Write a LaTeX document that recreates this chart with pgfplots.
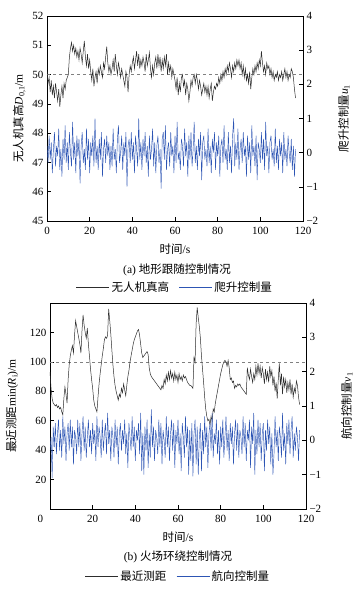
\documentclass[border=0pt]{standalone}
\usepackage{fontspec}
\setmainfont{Liberation Serif}
\newfontfamily\cjk{Noto Sans CJK SC}
\usepackage{pgfplots}
\pgfplotsset{compat=1.18}
\definecolor{lblack}{RGB}{45,45,45}
\definecolor{lblue}{RGB}{45,85,180}
\pgfplotsset{base/.style={scale only axis, width=256pt, height=205pt, xmin=0, xmax=120,
  tick align=inside, major tick length=4pt,
  ticklabel style={font=\fontsize{11}{12}\selectfont},
  xticklabel style={yshift=-2.5pt},
  label style={font=\fontsize{11.5}{13}\selectfont},
  xlabel style={yshift=-3pt},
  /pgf/number format/assume math mode=true,
  axis line style={line width=0.7pt}, tick style={line width=0.6pt, black}},
  leg/.style={legend style={anchor=center, draw=none, fill=none, legend columns=2,
  font=\cjk\fontsize{11.5}{13}\selectfont,
  /tikz/every even column/.append style={column sep=8pt}},
  legend image code/.code={\draw[##1] (0pt,0pt) -- (33pt,0pt);}}}
\begin{document}
\begin{tikzpicture}
\path[use as bounding box] (0pt,0pt) rectangle (357pt,-594pt);
% ---------- panel (a) ----------
\begin{axis}[base, name=a1, at={(47pt,-16pt)}, anchor=north west, height=205pt,
  ymin=45, ymax=52, ytick={45,46,...,52}, xtick={0,20,...,120},
  xtick pos=bottom, ytick pos=left,
  xlabel={{\cjk 时间}/s},
  ylabel={{\cjk 无人机真高}\textit{D}\textsubscript{0,1}/m}]
\addplot[gray, dashed, line width=0.5pt] coordinates {(0,50)(120,50)};
\addplot[lblack, line width=0.5pt] coordinates {
(0,50.1)(0.5,49.7)(1,49.9)(1.5,49.4)(2,49.8)(2.5,49.3)(3,49.6)(3.5,49.2)(4,49.7)(4.5,49.4)
(5,49.1)(5.5,49.5)(6,48.9)(6.5,49.3)(7,49.6)(7.5,49.2)(8,49.7)(8.5,49.5)(9,49.8)(9.5,49.9)
(10,50.0)(10.5,50.6)(11,50.9)(11.5,51.1)(12,50.8)(12.5,51.0)(13,50.7)(13.5,50.9)(14,50.6)(14.5,50.8)
(15,50.5)(15.5,50.9)(16,50.7)(16.5,50.4)(17,50.8)(17.5,51.15)(18,50.6)(18.5,50.3)(19,50.7)(19.5,50.2)
(20,50.5)(20.5,50.1)(21,49.8)(21.5,50.2)(22,49.6)(22.5,49.9)(23,50.1)(23.5,49.7)(24,50.2)(24.5,50.0)
(25,50.3)(25.5,50.1)(26,49.9)(26.5,50.4)(27,50.2)(27.5,50.6)(28,50.95)(28.5,50.4)(29,50.1)(29.5,50.3)
(30,50.0)(30.5,50.2)(31,50.5)(31.5,50.1)(32,50.7)(32.5,50.3)(33,50.0)(33.5,50.4)(34,50.2)(34.5,49.9)
(35,50.2)(35.5,50.0)(36,49.8)(36.5,49.6)(37,50.1)(37.5,49.9)(38,49.4)(38.5,50.0)(39,50.3)(39.5,50.1)
(40,50.4)(40.5,50.6)(41,50.2)(41.5,50.5)(42,50.8)(42.5,50.3)(43,50.7)(43.5,50.2)(44,50.5)(44.5,50.3)
(45,50.6)(45.5,50.4)(46,50.1)(46.5,50.7)(47,50.3)(47.5,50.5)(48,50.75)(48.5,50.2)(49,49.9)(49.5,50.3)
(50,50.0)(50.5,50.4)(51,50.6)(51.5,50.2)(52,50.7)(52.5,50.3)(53,50.6)(53.5,50.1)(54,50.5)(54.5,50.2)
(55,50.6)(55.5,50.3)(56,50.7)(56.5,50.0)(57,50.4)(57.5,50.1)(58,50.3)(58.5,49.9)(59,50.2)(59.5,50.0)
(60,49.8)(60.5,49.5)(61,49.9)(61.5,49.3)(62,49.7)(62.5,49.4)(63,49.9)(63.5,50.0)(64,49.6)(64.5,49.8)
(65,49.3)(65.5,49.7)(66,49.5)(66.5,49.1)(67,49.4)(67.5,49.8)(68,49.6)(68.5,49.9)(69,50.0)(69.5,49.7)
(70,50.0)(70.5,49.8)(71,49.5)(71.5,49.8)(72,49.6)(72.5,49.3)(73,49.5)(73.5,49.7)(74,49.4)(74.5,49.6)
(75,49.3)(75.5,49.6)(76,49.2)(76.5,49.5)(77,49.7)(77.5,49.1)(78,49.4)(78.5,49.6)(79,49.5)(79.5,49.7)
(80,49.6)(80.5,49.9)(81,49.7)(81.5,50.0)(82,49.8)(82.5,50.1)(83,49.9)(83.5,50.2)(84,50.0)(84.5,50.3)
(85,50.1)(85.5,50.4)(86,50.2)(86.5,49.9)(87,50.3)(87.5,50.1)(88,50.4)(88.5,50.2)(89,50.5)(89.5,50.3)
(90,50.5)(90.5,50.2)(91,50.4)(91.5,50.0)(92,50.3)(92.5,49.9)(93,50.2)(93.5,49.8)(94,50.0)(94.5,49.7)
(95,50.1)(95.5,49.5)(96,49.9)(96.5,50.2)(97,50.0)(97.5,50.3)(98,50.1)(98.5,50.4)(99,50.2)(99.5,50.5)
(100,50.3)(100.5,50.8)(101,50.4)(101.5,50.1)(102,50.3)(102.5,50.0)(103,50.4)(103.5,50.2)(104,50.3)(104.5,50.0)
(105,50.2)(105.5,49.9)(106,50.1)(106.5,49.8)(107,50.0)(107.5,49.9)(108,50.1)(108.5,49.8)(109,50.0)(109.5,49.9)
(110,50.1)(110.5,49.8)(111,50.0)(111.5,50.2)(112,49.9)(112.5,50.1)(113,49.8)(113.5,50.0)(114,49.9)(114.5,50.2)
(115,50.1)(115.5,49.9)(116,49.5)(116.5,49.2)};
\end{axis}
\begin{axis}[base, leg, at={(a1.north west)}, anchor=north west, height=205pt,
  axis y line*=right, axis x line=none, ymin=-2, ymax=4, ytick={-2,-1,...,4},
  yticklabels={−2,−1,0,1,2,3,4}, ylabel shift=13pt,
  ylabel={{\cjk 爬升控制量}\textit{u}\textsubscript{1}},
  legend style={at={(0.5,-0.322)}}]
\addlegendimage{lblack, line width=0.5pt}
\addlegendentry{无人机真高}
\addplot[lblue, line width=0.45pt] coordinates {
(0,0.2)(0.5,-0.3)(1,0.5)(1.5,-0.2)(2,0.3)(2.5,-0.6)(3,0.1)(3.5,0.6)(4,-0.4)(4.5,0.2)
(5,-0.1)(5.5,0.7)(6,-0.5)(6.5,0.1)(7,-0.7)(7.5,0.4)(8,-0.2)(8.5,0.8)(9,-0.3)(9.5,0.3)
(10,-0.5)(10.5,0.6)(11,0.0)(11.5,-0.4)(12,0.9)(12.5,-0.2)(13,0.3)(13.5,-0.6)(14,0.5)(14.5,-0.1)
(15,0.4)(15.5,-0.9)(16,0.2)(16.5,0.6)(17,-0.3)(17.5,0.1)(18,-0.5)(18.5,0.7)(19,-0.2)(19.5,0.4)
(20,-0.6)(20.5,0.3)(21,-0.1)(21.5,0.5)(22,-0.4)(22.5,1.0)(23,-0.3)(23.5,0.2)(24,-0.5)(24.5,0.4)
(25,-0.2)(25.5,0.6)(26,-0.7)(26.5,0.1)(27,0.4)(27.5,-0.3)(28,0.5)(28.5,-0.1)(29,0.3)(29.5,-0.5)
(30,0.2)(30.5,-0.4)(31,0.7)(31.5,-0.2)(32,0.1)(32.5,-0.6)(33,0.4)(33.5,0.8)(34,-0.3)(34.5,0.0)
(35,0.5)(35.5,-0.5)(36,0.3)(36.5,-0.1)(37,0.6)(37.5,-1.0)(38,0.2)(38.5,0.4)(39,-0.3)(39.5,0.6)
(40,-0.2)(40.5,0.3)(41,-0.6)(41.5,0.5)(42,0.1)(42.5,-0.4)(43,1.0)(43.5,-0.2)(44,0.3)(44.5,-0.5)
(45,0.4)(45.5,-0.1)(46,0.6)(46.5,-0.3)(47,0.2)(47.5,-0.7)(48,0.5)(48.5,-0.2)(49,0.1)(49.5,0.7)
(50,-0.4)(50.5,0.3)(51,-0.6)(51.5,0.2)(52,0.5)(52.5,-0.3)(53,0.1)(53.5,-1.05)(54,0.4)(54.5,0.6)
(55,-0.2)(55.5,0.8)(56,-0.5)(56.5,0.1)(57,0.3)(57.5,-0.4)(58,0.6)(58.5,-0.1)(59,0.2)(59.5,-0.6)
(60,0.5)(60.5,-0.3)(61,0.9)(61.5,-0.2)(62,0.0)(62.5,-0.5)(63,0.4)(63.5,0.2)(64,-0.4)(64.5,0.7)
(65,-0.1)(65.5,0.3)(66,-0.7)(66.5,0.5)(67,-0.2)(67.5,0.6)(68,-0.4)(68.5,0.1)(69,0.9)(69.5,-0.3)
(70,0.2)(70.5,-0.5)(71,0.4)(71.5,-0.1)(72,0.6)(72.5,-0.8)(73,0.3)(73.5,0.5)(74,-0.2)(74.5,0.1)
(75,-0.4)(75.5,0.7)(76,-0.3)(76.5,0.2)(77,-0.6)(77.5,0.4)(78,0.0)(78.5,0.6)(79,-0.5)(79.5,0.3)
(80,-0.1)(80.5,0.5)(81,-0.7)(81.5,0.2)(82,0.4)(82.5,-0.3)(83,0.8)(83.5,-0.2)(84,0.1)(84.5,-0.5)
(85,0.6)(85.5,-0.3)(86,0.2)(86.5,-0.6)(87,0.5)(87.5,1.0)(88,-0.4)(88.5,0.3)(89,-0.2)(89.5,0.7)
(90,-0.5)(90.5,0.1)(91,0.4)(91.5,-0.3)(92,0.6)(92.5,-0.1)(93,0.2)(93.5,-0.7)(94,0.5)(94.5,-0.2)
(95,0.3)(95.5,-0.6)(96,0.8)(96.5,-0.1)(97,0.2)(97.5,-0.4)(98,0.5)(98.5,-0.8)(99,0.3)(99.5,0.1)
(100,-0.3)(100.5,0.6)(101,-0.2)(101.5,0.4)(102,-0.5)(102.5,0.9)(103,-0.1)(103.5,0.2)(104,-0.6)(104.5,0.3)
(105,0.5)(105.5,-0.2)(106,0.1)(106.5,-0.4)(107,0.7)(107.5,-0.3)(108,0.2)(108.5,-0.5)(109,0.4)(109.5,-0.1)
(110,0.3)(110.5,-0.6)(111,0.6)(111.5,-0.2)(112,0.1)(112.5,-0.4)(113,0.5)(113.5,0.0)(114,-0.3)(114.5,0.4)
(115,-0.5)(115.5,0.2)(116,-0.7)(116.5,0.1)};
\addlegendentry{爬升控制量}
\end{axis}
\node[font=\fontsize{11.5}{13}\selectfont] at (177pt,-270pt) {(a) {\cjk 地形跟随控制情况}};
% ---------- panel (b) ----------
\begin{axis}[base, name=b1, at={(50pt,-303pt)}, anchor=north west, height=206pt,
  ymin=0, ymax=140, ytick={20,40,...,120}, xtick={0,20,...,120},
  xticklabels={\llap{0\hspace{7pt}},20,40,60,80,100,120},
  xtick pos=bottom, ytick pos=left, ylabel shift=5pt,
  xlabel={{\cjk 时间}/s},
  ylabel={{\cjk 最近测距}min(\textit{R}\textsubscript{i})/m}]
\addplot[gray, dashed, line width=0.5pt] coordinates {(0,100)(120,100)};
\addplot[lblack, line width=0.5pt] coordinates {
(0,93)(0.5,82)(1,75)(1.5,72)(2,71)(2.5,70)(3,71)(3.5,69)(4,70)(4.5,68)
(5,69)(5.5,66)(6,64)(6.5,75)(7,83)(7.5,78)(8,72)(8.5,88)(9,98)(9.5,104)
(10,108)(10.5,111)(11,106)(11.5,118)(12,128)(12.5,124)(13,120)(13.5,116)(14,112)(14.5,106)
(15,121)(15.5,132)(16,125)(16.5,120)(17,116)(17.5,123)(18,112)(18.5,104)(19,95)(19.5,88)
(20,82)(20.5,74)(21,70)(21.5,68)(22,66)(22.5,76)(23,85)(23.5,92)(24,98)(24.5,104)
(25,109)(25.5,115)(26,117)(26.5,116)(27,118)(27.5,136)(28,128)(28.5,119)(29,108)(29.5,98)
(30,90)(30.5,84)(31,80)(31.5,77)(32,74)(32.5,78)(33,76)(33.5,82)(34,79)(34.5,85)
(35,81)(35.5,77)(36,84)(36.5,90)(37,94)(37.5,100)(38,104)(38.5,108)(39,112)(39.5,115)
(40,117)(40.5,119)(41,121)(41.5,122)(42,118)(42.5,112)(43,106)(43.5,103)(44,104)(44.5,105)
(45,106)(45.5,107)(46,105)(46.5,96)(47,92)(47.5,90)(48,89)(48.5,88)(49,87)(49.5,86)
(50,85)(50.5,84)(51,83)(51.5,82)(52,81)(52.5,84)(53,82)(53.5,88)(54,85)(54.5,91)
(55,87)(55.5,93)(56,88)(56.5,94)(57,89)(57.5,92)(58,87)(58.5,93)(59,88)(59.5,91)
(60,86)(60.5,92)(61,88)(61.5,90)(62,87)(62.5,91)(63,89)(63.5,90)(64,88)(64.5,86)
(65,85)(65.5,84)(66,84)(66.5,83)(67,82)(67.5,103)(68,100)(68.5,126)(69,137)(69.5,130)
(70,124)(70.5,116)(71,104)(71.5,95)(72,86)(72.5,76)(73,68)(73.5,63)(74,60)(74.5,61)
(75,57)(75.5,63)(76,60)(76.5,68)(77,66)(77.5,72)(78,76)(78.5,80)(79,84)(79.5,88)
(80,92)(80.5,95)(81,98)(81.5,100)(82,101)(82.5,100)(83,97)(83.5,101)(84,96)(84.5,88)
(85,89)(85.5,86)(86,87)(86.5,82)(87,84)(87.5,83)(88,85)(88.5,84)(89,85)(89.5,83)
(90,82)(90.5,81)(91,80)(91.5,79)(92,78)(92.5,96)(93,91)(93.5,88)(94,95)(94.5,90)
(95,86)(95.5,92)(96,88)(96.5,97)(97,91)(97.5,99)(98,92)(98.5,97)(99,89)(99.5,96)
(100,92)(100.5,85)(101,95)(101.5,88)(102,93)(102.5,86)(103,97)(103.5,90)(104,94)(104.5,84)
(105,90)(105.5,80)(106,86)(106.5,75)(107,88)(107.5,99)(108,84)(108.5,92)(109,78)(109.5,90)
(110,83)(110.5,88)(111,79)(111.5,86)(112,81)(112.5,88)(113,78)(113.5,85)(114,76)(114.5,82)
(115,79)(115.5,87)(116,84)(116.5,76)(117,71)};
\end{axis}
\begin{axis}[base, leg, at={(b1.north west)}, anchor=north west, height=206pt,
  axis y line*=right, axis x line=none, ymin=-2, ymax=4, ytick={-2,-1,...,4},
  yticklabels={−2,−1,0,1,2,3,4}, ylabel shift=13pt,
  ylabel={{\cjk 航向控制量}\textit{v}\textsubscript{1}},
  legend style={at={(0.5,-0.325)}}]
\addlegendimage{lblack, line width=0.5pt}
\addlegendentry{最近测距}
\addplot[lblue, line width=0.45pt] coordinates {
(0,-0.3)(0.5,0.1)(1,-1.1)(1.5,0.4)(2,-0.2)(2.5,0.5)(3,-0.4)(3.5,0.2)(4,0.6)(4.5,-0.3)
(5,0.3)(5.5,-0.5)(6,0.7)(6.5,-0.1)(7,0.4)(7.5,-0.6)(8,0.2)(8.5,0.5)(9,-0.3)(9.5,0.6)
(10,-0.2)(10.5,0.4)(11,-0.7)(11.5,0.3)(12,0.1)(12.5,-0.4)(13,0.6)(13.5,-0.2)(14,0.5)(14.5,-0.6)
(15,0.2)(15.5,0.7)(16,-0.3)(16.5,0.4)(17,-0.5)(17.5,0.1)(18,0.6)(18.5,-0.2)(19,0.3)(19.5,-0.4)
(20,0.5)(20.5,-0.1)(21,0.3)(21.5,-0.6)(22,0.7)(22.5,-0.2)(23,0.4)(23.5,0.1)(24,-0.5)(24.5,0.6)
(25,-0.3)(25.5,0.2)(26,0.5)(26.5,-0.4)(27,0.8)(27.5,-0.1)(28,0.3)(28.5,-0.6)(29,0.4)(29.5,0.1)
(30,-0.5)(30.5,0.6)(31,-0.2)(31.5,0.4)(32,-0.7)(32.5,0.2)(33,0.5)(33.5,-0.3)(34,0.3)(34.5,-0.1)
(35,0.6)(35.5,-0.4)(36,0.2)(36.5,-0.8)(37,0.5)(37.5,0.1)(38,-0.3)(38.5,0.7)(39,-0.2)(39.5,0.4)
(40,-0.6)(40.5,0.3)(41,0.0)(41.5,0.5)(42,-0.4)(42.5,0.8)(43,-0.9)(43.5,0.2)(44,-1.0)(44.5,0.4)
(45,-0.3)(45.5,0.6)(46,-0.8)(46.5,0.2)(47,-0.5)(47.5,0.9)(48,-0.2)(48.5,0.4)(49,-0.6)(49.5,0.3)
(50,0.1)(50.5,-0.4)(51,0.6)(51.5,-0.2)(52,0.5)(52.5,-0.7)(53,0.3)(53.5,0.0)(54,-0.5)(54.5,0.7)
(55,-0.2)(55.5,0.4)(56,-0.6)(56.5,0.2)(57,0.6)(57.5,-0.3)(58,0.5)(58.5,-0.8)(59,0.3)(59.5,-0.1)
(60,0.6)(60.5,-0.4)(61,0.2)(61.5,-0.9)(62,0.5)(62.5,0.1)(63,-0.5)(63.5,0.7)(64,-0.2)(64.5,0.4)
(65,-1.0)(65.5,0.3)(66,-0.6)(66.5,0.5)(67,-1.05)(67.5,0.2)(68,0.6)(68.5,-0.7)(69,0.4)(69.5,-1.0)
(70,0.1)(70.5,0.5)(71,-0.9)(71.5,0.3)(72,-0.4)(72.5,0.7)(73,-0.2)(73.5,0.4)(74,-0.8)(74.5,0.2)
(75,0.5)(75.5,-0.3)(76,0.8)(76.5,-0.5)(77,0.2)(77.5,-0.1)(78,0.6)(78.5,-0.4)(79,0.3)(79.5,-0.7)
(80,0.4)(80.5,-0.2)(81,0.6)(81.5,-0.5)(82,0.1)(82.5,0.7)(83,-0.3)(83.5,0.3)(84,-0.6)(84.5,0.5)
(85,-0.1)(85.5,0.4)(86,-0.7)(86.5,0.2)(87,0.6)(87.5,-0.3)(88,0.5)(88.5,-0.5)(89,0.3)(89.5,0.1)
(90,-0.4)(90.5,0.7)(91,-0.2)(91.5,0.5)(92,-0.6)(92.5,0.3)(93,0.0)(93.5,0.6)(94,-0.8)(94.5,0.4)
(95,-0.1)(95.5,0.8)(96,-1.0)(96.5,0.3)(97,-0.4)(97.5,0.6)(98,-0.2)(98.5,0.5)(99,-0.6)(99.5,0.2)
(100,0.5)(100.5,-0.9)(101,0.3)(101.5,-0.3)(102,0.6)(102.5,-0.1)(103,0.4)(103.5,-0.7)(104,0.2)(104.5,-1.0)
(105,-0.4)(105.5,0.7)(106,-0.2)(106.5,0.3)(107,-0.6)(107.5,0.4)(108,0.1)(108.5,-0.5)(109,0.8)(109.5,-0.3)
(110,0.2)(110.5,-0.7)(111,0.5)(111.5,-0.1)(112,0.6)(112.5,-0.4)(113,0.3)(113.5,0.7)(114,-0.5)(114.5,0.2)
(115,-0.3)(115.5,0.4)(116,0.1)(116.5,-0.6)(117,0.3)};
\addlegendentry{航向控制量}
\end{axis}
\node[font=\fontsize{11.5}{13}\selectfont] at (178pt,-557pt) {(b) {\cjk 火场环绕控制情况}};
\end{tikzpicture}
\end{document}
